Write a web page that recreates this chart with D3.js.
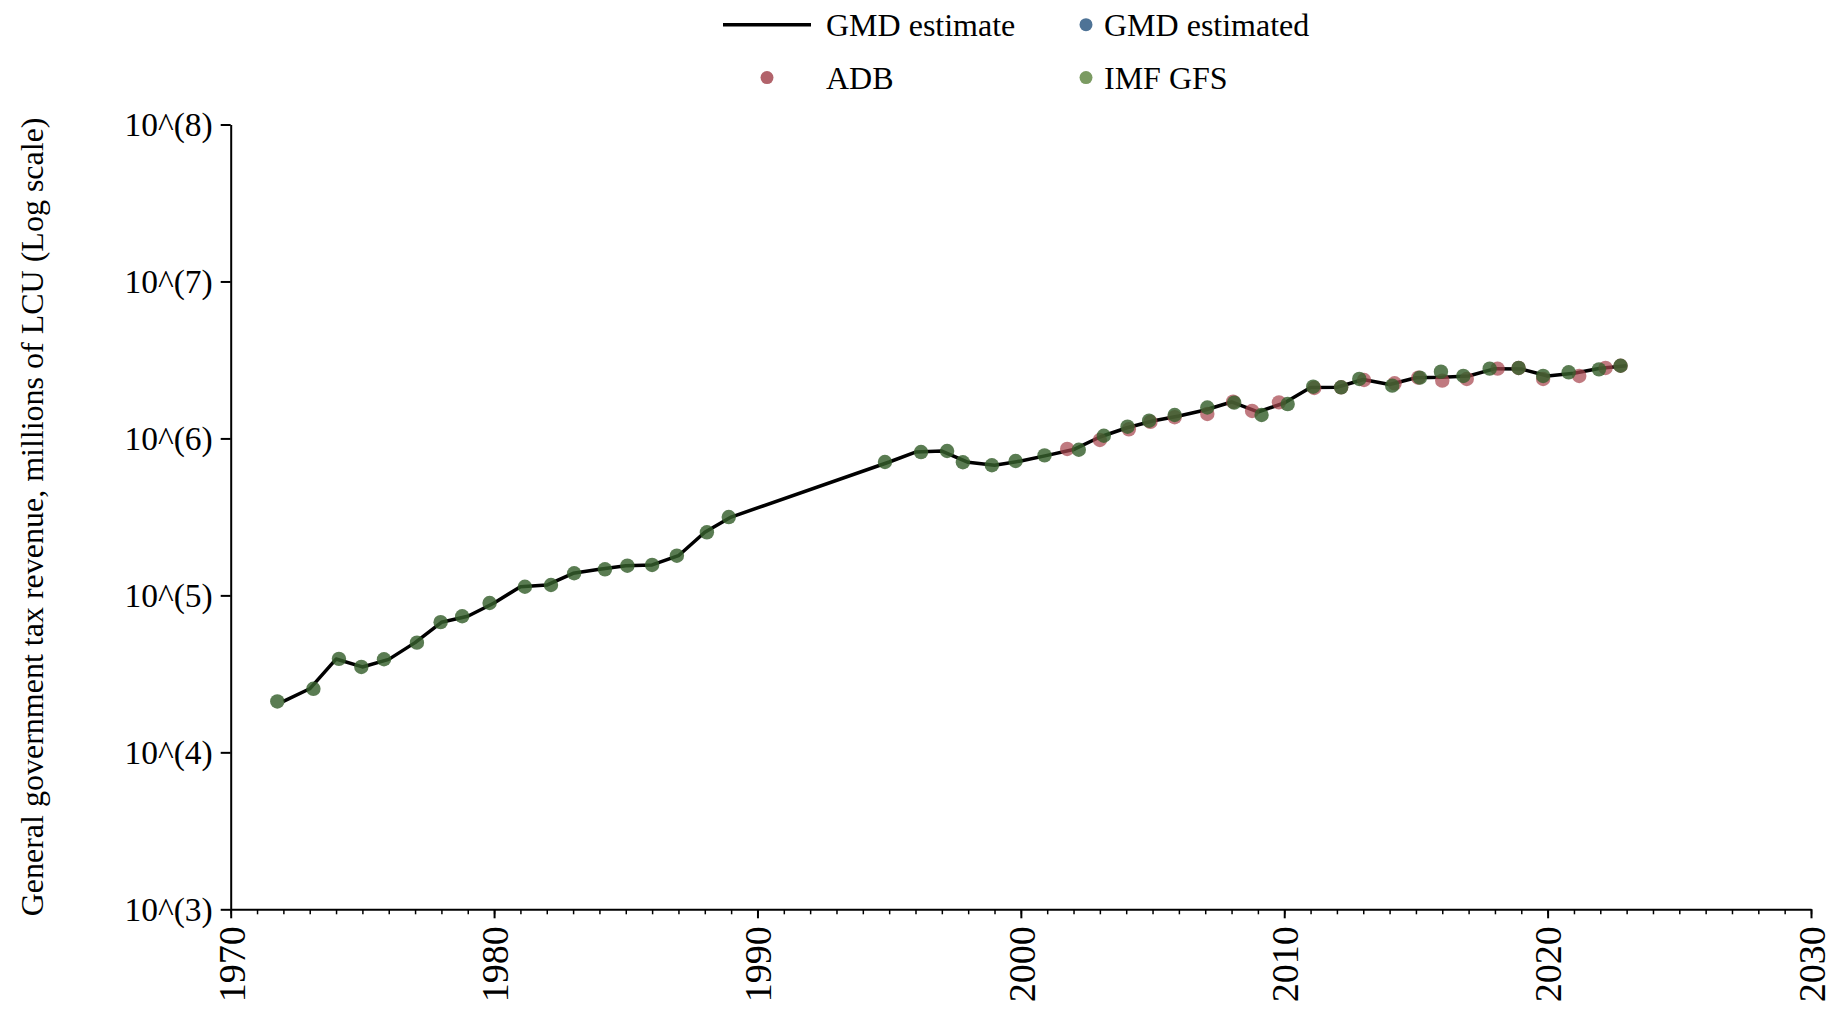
<!DOCTYPE html>
<html>
<head>
<meta charset="utf-8">
<script src="https://cdn.jsdelivr.net/npm/d3@7"></script>
<style>
  body { margin: 0; background: #fff; }
  svg { display: block; }
</style>
</head>
<body>
<svg id="chart"></svg>
<script>
// GMD estimate (line), millions of LCU
const lineYears = [1972, 1973, 1974, 1975, 1976, 1977, 1978, 1979, 1980, 1981, 1982, 1983, 1984, 1985, 1986, 1987, 1988, 1989,
  1995, 1996, 1997, 1998, 1999, 2000, 2001, 2002, 2003, 2004, 2005, 2006, 2007, 2008, 2009, 2010, 2011, 2012, 2013,
  2014, 2015, 2016, 2017, 2018, 2019, 2020, 2021, 2022, 2023];
const gmdEstimate = [21100, 25400, 39300, 35000, 39100, 50000, 67400, 73600, 89400, 113600, 116400, 138300, 146600, 154500, 156300, 179000, 252400, 315600,
  707500, 819000, 831000, 704000, 674000, 718000, 780000, 849000, 1021000, 1165000, 1291000, 1390000, 1518000, 1707000, 1474000, 1682000, 2109000, 2117000, 2373000,
  2206000, 2437000, 2450000, 2500000, 2782000, 2770000, 2500000, 2600000, 2800000, 2905000];

// IMF GFS points (x is the plotted, slightly jittered year)
const imfX = [1971.77, 1973.14, 1974.11, 1974.96, 1975.82, 1977.07, 1977.97, 1978.79, 1979.83, 1981.17, 1982.16, 1983.04, 1984.21, 1985.06, 1986.0, 1986.94, 1988.08, 1988.91,
  1994.84, 1996.21, 1997.2, 1997.8, 1998.9, 1999.8, 2000.9, 2002.2, 2003.15, 2004.05, 2004.87, 2005.84, 2007.08, 2008.1, 2009.14, 2010.13, 2011.1, 2012.16, 2012.85,
  2014.1, 2015.15, 2015.95, 2016.8, 2017.8, 2018.9, 2019.83, 2020.8, 2021.95, 2022.77];
const imfValues = [21100, 25400, 39400, 35000, 39200, 50000, 67500, 73600, 89400, 113500, 116400, 138400, 146600, 154600, 156300, 179000, 252300, 315500,
  707900, 818500, 831800, 704700, 674500, 717800, 779800, 847000, 1040000, 1188000, 1297000, 1410000, 1574000, 1690000, 1410000, 1656000, 2136000, 2117000, 2393000,
  2168000, 2438000, 2661000, 2500000, 2782000, 2812000, 2500000, 2637000, 2754000, 2904000];

// ADB points
const adbX = [2001.76, 2003.0, 2004.1, 2004.92, 2005.84, 2007.08, 2008.06, 2008.78, 2009.8, 2011.14, 2012.16, 2013.03,
  2014.19, 2015.09, 2016.0, 2016.93, 2018.1, 2018.9, 2019.83, 2021.2, 2022.2, 2022.77];
const adbValues = [857000, 977000, 1143000, 1274000, 1365000, 1432000, 1714000, 1496000, 1698000, 2095000, 2117000, 2356000,
  2244000, 2438000, 2334000, 2393000, 2782000, 2812000, 2393000, 2500000, 2812000, 2904000];

const yTicks = [1e3, 1e4, 1e5, 1e6, 1e7, 1e8];
const xMajorTicks = [1970, 1980, 1990, 2000, 2010, 2020, 2030];
const legendItems = [
  { label: "GMD estimate", kind: "line", color: "#000000" },
  { label: "GMD estimated", kind: "dot", color: "#4e7396" },
  { label: "ADB", kind: "dot", color: "#b2636b" },
  { label: "IMF GFS", kind: "dot", color: "#7b9b62" }
];

const W = 1843, H = 1024;
const m = { top: 124.5, right: 32, bottom: 114.7, left: 230.7 };
const iW = W - m.left - m.right;
const iH = H - m.top - m.bottom;
const FONT = "'Liberation Serif', 'Times New Roman', serif";

const x = d3.scaleLinear().domain([1970, 2030]).range([0, iW]);
const y = d3.scaleLog().domain([1e3, 1e8]).range([iH, 0]);

const svg = d3.select("#chart").attr("width", W).attr("height", H);
const g = svg.append("g").attr("transform", `translate(${m.left},${m.top})`);

// Line
g.append("path")
  .datum(lineYears.map((yr, i) => ({ yr, v: gmdEstimate[i] })))
  .attr("d", d3.line().x(d => x(d.yr)).y(d => y(d.v)))
  .attr("fill", "none")
  .attr("stroke", "#000")
  .attr("stroke-width", 3.5)
  .attr("stroke-linejoin", "round");

// ADB dots
g.append("g").selectAll("circle")
  .data(adbX.map((xx, i) => ({ xx, v: adbValues[i] })))
  .join("circle")
  .attr("cx", d => x(d.xx)).attr("cy", d => y(d.v)).attr("r", 7.2)
  .attr("fill", "#a8464f").attr("fill-opacity", 0.72);

// IMF GFS dots
g.append("g").selectAll("circle")
  .data(imfX.map((xx, i) => ({ xx, v: imfValues[i] })))
  .join("circle")
  .attr("cx", d => x(d.xx)).attr("cy", d => y(d.v)).attr("r", 7.2)
  .attr("fill", "#365f2c").attr("fill-opacity", 0.82);

// Y axis
g.append("g")
  .call(d3.axisLeft(y).tickValues(yTicks).tickFormat(d => `10^(${Math.round(Math.log10(d))})`)
    .tickSize(10).tickSizeOuter(0).tickPadding(8))
  .call(ax => {
    ax.select(".domain").attr("stroke", "#000").attr("stroke-width", 2);
    ax.selectAll(".tick line").attr("stroke", "#000").attr("stroke-width", 2);
    ax.selectAll(".tick text").attr("fill", "#000")
      .style("font-family", FONT).style("font-size", "33.5px");
  });

// X axis: minor ticks every year
g.append("g")
  .attr("transform", `translate(0,${iH})`)
  .call(d3.axisBottom(x).tickValues(d3.range(1970, 2031)).tickFormat("").tickSize(5).tickSizeOuter(0))
  .call(ax => {
    ax.select(".domain").attr("stroke", "#000").attr("stroke-width", 2);
    ax.selectAll(".tick line").attr("stroke", "#000").attr("stroke-width", 1.5);
  });

// X axis: decade ticks and labels
g.append("g")
  .attr("transform", `translate(0,${iH})`)
  .call(d3.axisBottom(x).tickValues(xMajorTicks).tickFormat(d3.format("d")).tickSize(9).tickSizeOuter(0))
  .call(ax => {
    ax.select(".domain").remove();
    ax.selectAll(".tick line").attr("stroke", "#000").attr("stroke-width", 2);
    ax.selectAll(".tick text")
      .attr("fill", "#000")
      .attr("transform", "rotate(-90)")
      .attr("text-anchor", "end")
      .attr("x", -17).attr("y", 0).attr("dy", "0.35em")
      .style("font-family", FONT).style("font-size", "38px");
  });

// Y axis title
svg.append("text")
  .attr("transform", `translate(${43},${m.top + iH / 2}) rotate(-90)`)
  .attr("text-anchor", "middle")
  .style("font-family", FONT).style("font-size", "32px")
  .text("General government tax revenue, millions of LCU (Log scale)");

// Legend (2 x 2)
const legPos = [[723, 24.7], [1086, 24.7], [767, 77.6], [1086, 77.6]];
legendItems.forEach((it, i) => {
  const [lx, ly] = legPos[i];
  if (it.kind === "line") {
    svg.append("line").attr("x1", lx).attr("x2", lx + 88).attr("y1", ly).attr("y2", ly)
      .attr("stroke", it.color).attr("stroke-width", 3.5);
  } else {
    svg.append("circle").attr("cx", lx).attr("cy", ly).attr("r", 6.5).attr("fill", it.color);
  }
  const tx = i % 2 === 0 ? 826 : 1104;
  svg.append("text")
    .attr("x", tx).attr("y", ly).attr("dy", "0.35em")
    .style("font-family", FONT).style("font-size", "32px")
    .text(it.label);
});
</script>
</body>
</html>
